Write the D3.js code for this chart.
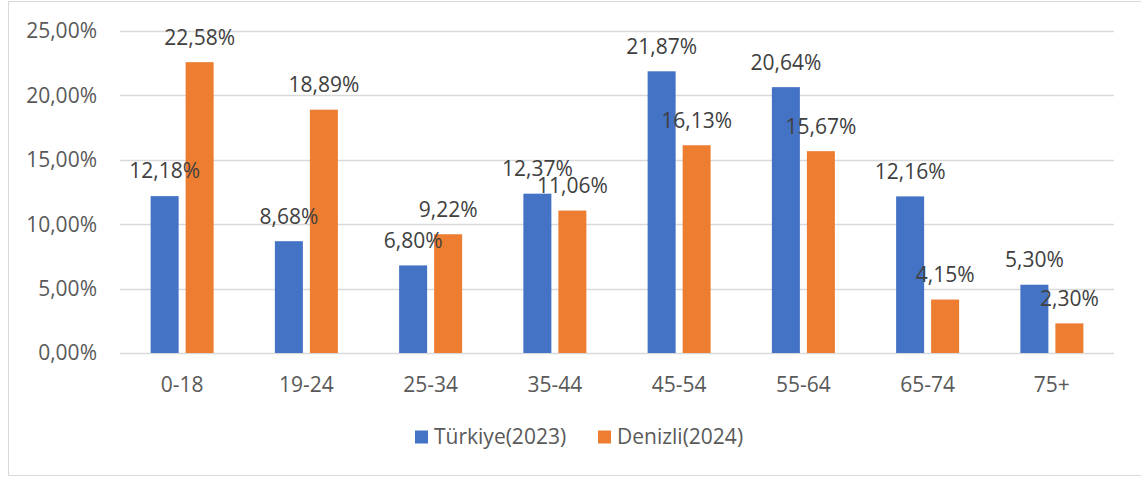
<!DOCTYPE html>
<html>
<head>
<meta charset="utf-8">
<script src="https://cdn.jsdelivr.net/npm/d3@7"></script>
<style>
  body { margin: 0; background: #fff; }
  text { font-family: "Open Sans", sans-serif; }
</style>
</head>
<body>
<div id="chart-area"></div>
<script>
const groups = ["0-18", "19-24", "25-34", "35-44", "45-54", "55-64", "65-74", "75+"];
const series = ["Türkiye(2023)", "Denizli(2024)"];
const turkiye = [12.18, 8.68, 6.80, 12.37, 21.87, 20.64, 12.16, 5.30];
const denizli = [22.58, 18.89, 9.22, 11.06, 16.13, 15.67, 4.15, 2.30];
const yTicks = [0, 5, 10, 15, 20, 25];
const colors = ["#4472c4", "#ed7d31"];

const WIDTH = 1141, HEIGHT = 477;
const FONT = 21;
const fmt = v => v.toFixed(2).replace(".", ",") + "%";

const data = groups.map((g, i) => ({ group: g, values: [turkiye[i], denizli[i]] }));

const svg = d3.select("#chart-area").append("svg")
  .attr("width", WIDTH)
  .attr("height", HEIGHT);

// chart border
svg.append("rect")
  .attr("x", 8.5).attr("y", 1.5)
  .attr("width", WIDTH + 10).attr("height", 474)
  .attr("fill", "none")
  .attr("stroke", "#d9d9d9");

const x0 = d3.scaleBand().domain(groups).range([120, 1114]);
const x1 = d3.scaleBand().domain(series).range([-31.5, 31.5]).paddingInner(0.2);
const y = d3.scaleLinear().domain([0, 25]).range([353, 31]);

// gridlines
svg.append("g").selectAll("line").data(yTicks).enter().append("line")
  .attr("x1", 120).attr("x2", 1114)
  .attr("y1", d => Math.round(y(d)) + 0.5)
  .attr("y2", d => Math.round(y(d)) + 0.5)
  .attr("stroke", "#d9d9d9")
  .attr("stroke-width", 1.3);

// y labels
svg.append("g").selectAll("text").data(yTicks).enter().append("text")
  .attr("x", 97)
  .attr("y", d => y(d))
  .attr("dy", "0.35em")
  .attr("text-anchor", "end")
  .attr("font-size", FONT)
  .attr("fill", "#595959")
  .text(d => d.toFixed(2).replace(".", ",") + "%");

// x labels
svg.append("g").selectAll("text").data(groups).enter().append("text")
  .attr("x", d => x0(d) + x0.bandwidth() / 2)
  .attr("y", 385)
  .attr("dy", "0.35em")
  .attr("text-anchor", "middle")
  .attr("font-size", FONT)
  .attr("fill", "#595959")
  .text(d => d);

const grp = svg.append("g").selectAll("g").data(data).enter().append("g")
  .attr("transform", d => `translate(${x0(d.group) + x0.bandwidth() / 2},0)`);

grp.selectAll("rect").data(d => d.values).enter().append("rect")
  .attr("x", (d, i) => x1(series[i]))
  .attr("width", x1.bandwidth())
  .attr("y", d => y(d))
  .attr("height", d => y(0) - y(d))
  .attr("fill", (d, i) => colors[i]);

grp.selectAll("text").data(d => d.values).enter().append("text")
  .attr("x", (d, i) => x1(series[i]) + x1.bandwidth() / 2)
  .attr("y", d => y(d) - 25)
  .attr("dy", "0.35em")
  .attr("text-anchor", "middle")
  .attr("font-size", FONT)
  .attr("fill", "#404040")
  .text(d => fmt(d));

// legend
const legendX = [415, 598];
const legend = svg.append("g").selectAll("g").data(series).enter().append("g")
  .attr("transform", (d, i) => `translate(${legendX[i]},437)`);
legend.append("rect")
  .attr("x", 0).attr("y", -6.5)
  .attr("width", 13).attr("height", 13)
  .attr("fill", (d, i) => colors[i]);
legend.append("text")
  .attr("x", 19)
  .attr("dy", "0.35em")
  .attr("font-size", FONT)
  .attr("fill", "#595959")
  .text(d => d);
</script>
</body>
</html>
